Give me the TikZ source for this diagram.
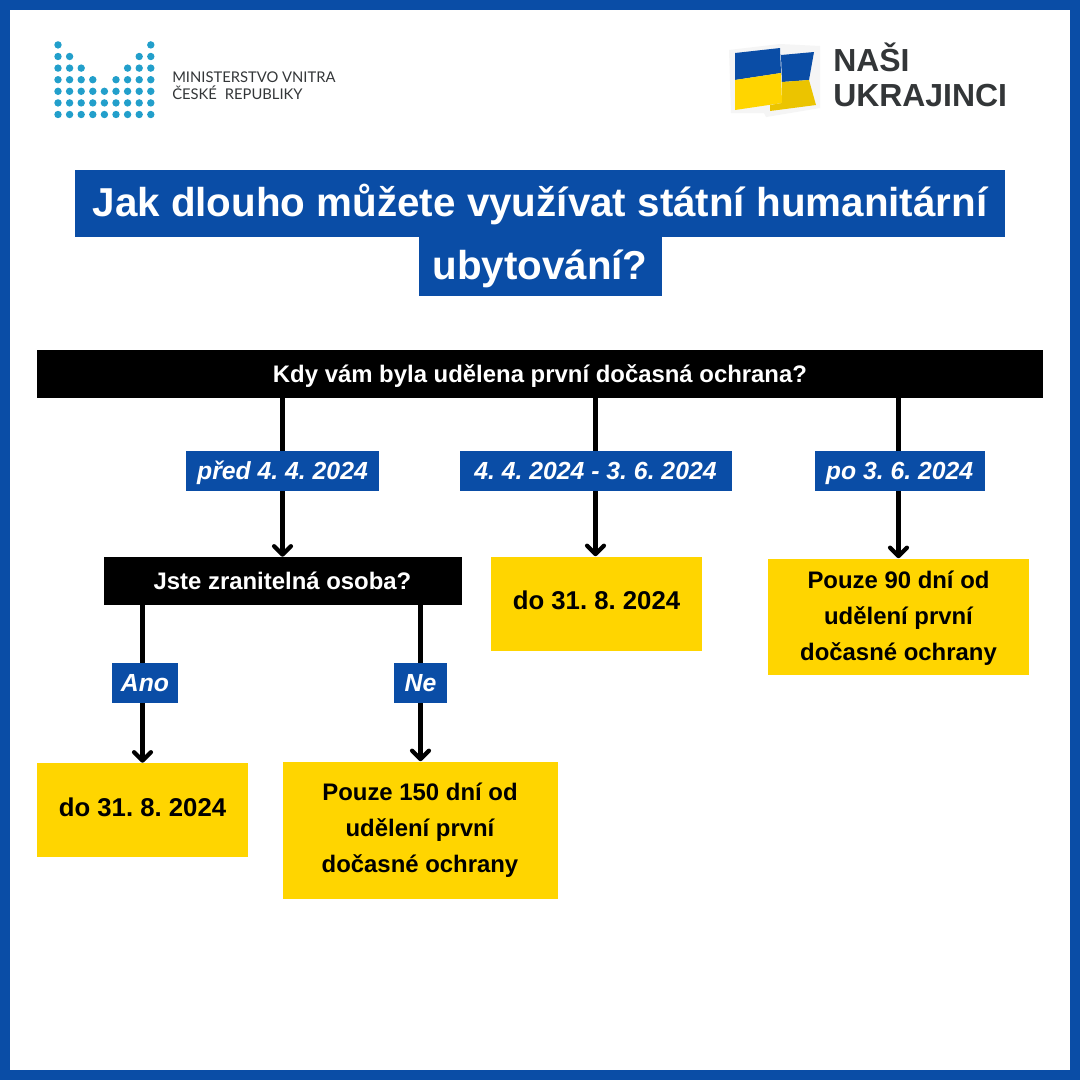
\documentclass[tikz,border=0pt]{standalone}
\usepackage{fontspec}
\setmainfont{Liberation Sans}
\newfontfamily\logofont{Lato}
\usepackage{xcolor}
\usetikzlibrary{arrows.meta}
\definecolor{mvblue}{HTML}{0A4DA6}
\definecolor{mvyellow}{HTML}{FFD500}
\definecolor{mvdots}{HTML}{229FCB}
\definecolor{mvgray}{HTML}{333638}
\tikzset{
    blackbar/.style={fill=black, text=white, font=\fontsize{17}{20}\selectfont\bfseries, inner sep=0pt, text height=12pt, text depth=0pt},
    titlebar/.style={fill=mvblue, text=white, font=\fontsize{28.7}{30}\selectfont\bfseries, inner sep=0pt, text height=21pt, text depth=2pt},
    datelabel/.style={fill=mvblue, text=white, font=\fontsize{17.6}{20}\selectfont\bfseries\itshape, inner sep=0pt, text height=12pt, text depth=0pt},
    answerbox/.style={fill=mvyellow, text=black, font=\fontsize{17}{25.5}\selectfont\bfseries, align=center, inner sep=0pt},
    shortanswer/.style={answerbox, font=\fontsize{18.3}{25.5}\selectfont\bfseries, text depth=4.5pt},
    arrowline/.style={line width=3pt, black, -{Straight Barb[round,length=6pt,width=12pt,line width=3pt]}},
    plainline/.style={line width=3pt, black}
}
\begin{document}
\frenchspacing
\begin{tikzpicture}[x=0.025cm, y=-0.025cm]
    \useasboundingbox (0,0) rectangle (1080,1080);

    % Frame
    \fill[mvblue] (0,0) rectangle (1080,1080);
    \fill[white] (10,10) rectangle (1070,1070);

    % Ministry logo
    \foreach \c/\n in {0/7,1/6,2/5,3/4,4/3,5/4,6/5,7/6,8/7} {
        \foreach \r in {1,...,\n} {
            \fill[mvdots] ({58+11.6*\c},{114.5-11.6*(\r-1)}) circle (3.7);
        }
    }
    \node[anchor=west, inner sep=0pt, text=mvgray, align=left, font=\logofont\fontsize{10.5}{12}\selectfont] (ministry) at (172,86) {MINISTERSTVO VNITRA\\ČESKÉ\; REPUBLIKY};

    % Flag logo
    \fill[black!4] (729,50) -- (780,44) -- (820,46) -- (820,108) -- (766,117) -- (764,113) -- (731,113) -- cycle;
    \fill[mvblue] (735,53) -- (780,48) -- (781,73) -- (735,80) -- cycle;
    \fill[mvyellow] (735,80) -- (781,73) -- (782,103) -- (735,110) -- cycle;
    \fill[mvblue] (781,55) -- (814,52) -- (809,80) -- (782,82) -- cycle;
    \fill[mvyellow!92!black] (782,82) -- (809,80) -- (816,105) -- (770,111) -- (770,105) -- (782,103) -- cycle;
    \node[anchor=west, inner sep=0pt, text=mvgray, align=left, font=\fontsize{22.7}{24.8}\selectfont\bfseries] (nasi) at (833,75) {NAŠI\\UKRAJINCI};

    % Title
    \node[titlebar, minimum width=930*0.025cm, minimum height=67*0.025cm] (title1) at (540,203.5) {Jak dlouho můžete využívat státní humanitární};
    \node[titlebar, minimum width=243*0.025cm, minimum height=59*0.025cm] (title2) at (540,266.5) {ubytování?};

    % Questions
    \node[blackbar, minimum width=1006*0.025cm, minimum height=48*0.025cm] (prvni) at (540,374) {Kdy vám byla udělena první dočasná ochrana?};
    \node[blackbar, minimum width=358*0.025cm, minimum height=48*0.025cm] (zranitelna) at (282.5,581) {Jste zranitelná osoba?};

    % Date labels
    \node[datelabel, minimum width=193*0.025cm, minimum height=40*0.025cm] (pred) at (282.5,471) {před 4. 4. 2024};
    \node[datelabel, minimum width=272*0.025cm, minimum height=40*0.025cm] (mezi) at (595.5,471) {4. 4. 2024 - 3. 6. 2024};
    \node[datelabel, minimum width=170*0.025cm, minimum height=40*0.025cm] (po) at (899.5,471) {po 3. 6. 2024};
    \node[datelabel, minimum width=66*0.025cm, minimum height=40*0.025cm] (ano) at (145,683) {Ano};
    \node[datelabel, minimum width=53*0.025cm, minimum height=40*0.025cm] (ne) at (420.5,683) {Ne};

    % Answers
    \node[shortanswer, minimum width=211*0.025cm, minimum height=94*0.025cm] (mezido) at (596.5,603.5) {do 31. 8. 2024};
    \node[answerbox, minimum width=261*0.025cm, minimum height=116*0.025cm] (dni90) at (898.5,616.5) {\rule{0pt}{15pt}Pouze 90 dní od\\udělení první\\dočasné ochrany};
    \node[shortanswer, minimum width=211*0.025cm, minimum height=94*0.025cm] (anodo) at (142.5,810) {do 31. 8. 2024};
    \node[answerbox, minimum width=275*0.025cm, minimum height=137*0.025cm] (dni150) at (420,830) {Pouze 150 dní od\\udělení první\\dočasné ochrany};

    % Connectors
    \draw[plainline] (prvni.south -| pred) -- (pred.north);
    \draw[arrowline] (pred.south) -- (zranitelna.north);
    \draw[plainline] (prvni.south -| mezi) -- (mezi.north);
    \draw[arrowline] (mezi.south) -- (mezido.north -| mezi);
    \draw[plainline] (prvni.south -| dni90) -- (po.north -| dni90);
    \draw[arrowline] (po.south -| dni90) -- (dni90.north);
    \draw[plainline] (zranitelna.south -| anodo) -- (ano.north -| anodo);
    \draw[arrowline] (ano.south -| anodo) -- (anodo.north);
    \draw[plainline] (zranitelna.south -| ne) -- (ne.north);
    \draw[arrowline] (ne.south) -- (dni150.north -| ne);
\end{tikzpicture}
\end{document}
